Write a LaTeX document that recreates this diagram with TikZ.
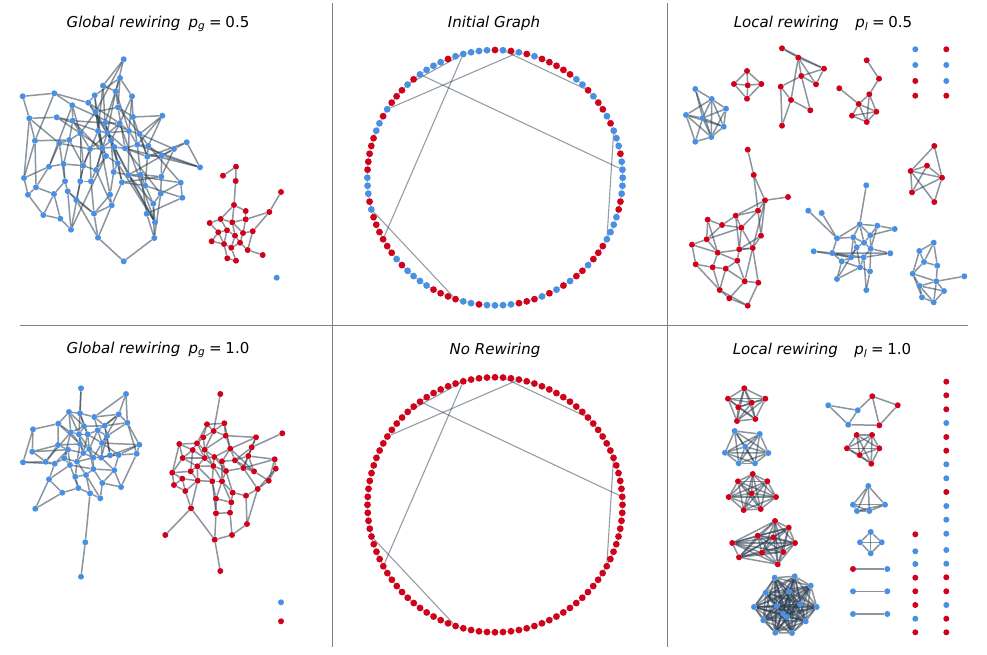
\documentclass[tikz,border=0pt]{standalone}
\usepackage{fontspec}
\setmainfont{DejaVu Sans}
\pgfdeclarelayer{bg}
\pgfdeclarelayer{edges}
\pgfsetlayers{bg,edges,main}
\definecolor{cb}{RGB}{74,144,226}
\definecolor{cr}{RGB}{208,2,27}
\definecolor{ce}{RGB}{44,62,80}
\definecolor{cdiv}{RGB}{128,128,128}
\newcommand\mycliq[2]{\foreach \i in {1,...,#2}{\foreach \j in {\i,...,#2}{\ifnum\j>\i\relax\draw[edge] (#1\i) -- (#1\j);\fi}}}
\begin{document}
\begin{tikzpicture}[x=1pt,y=-1pt,
  vtx/.style={circle,inner sep=0pt,minimum size=6pt,draw=none,fill=c#1},
  rv/.style={circle,inner sep=0pt,minimum size=6.8pt,draw=none,fill=c#1},
  edge/.style={draw=ce,draw opacity=0.55,line width=1.5pt},
  ringedge/.style={draw=ce,draw opacity=0.6,line width=0.9pt},
  chord/.style={draw=ce,draw opacity=0.5,line width=1.1pt},
  ttl/.style={font=\fontsize{15}{18}\selectfont\itshape,inner sep=0pt},
  divider/.style={draw=cdiv,line width=1.2pt}]
\begin{pgfonlayer}{bg}
\fill[white] (0,0) rectangle (987,655);
\end{pgfonlayer}
\useasboundingbox (0,0) rectangle (987,655);
% dividers
\draw[divider] (332.5,3) -- (332.5,647);
\draw[divider] (667.5,3) -- (667.5,647);
\draw[divider] (20,325.5) -- (968,325.5);
% titles
\node[ttl] (t1) at (158,23.5) {Global rewiring\hspace{0.55em}p\textsubscript{g}\hspace{0.25em}{\upshape =\hspace{0.25em}0.5}};
\node[ttl] (t2) at (494,23.5) {Initial Graph};
\node[ttl] (t3) at (823,23.5) {Local rewiring\hspace{1.1em}p\textsubscript{l}\hspace{0.25em}{\upshape =\hspace{0.25em}0.5}};
\node[ttl] (t4) at (158,350) {Global rewiring\hspace{0.55em}p\textsubscript{g}\hspace{0.25em}{\upshape =\hspace{0.25em}1.0}};
\node[ttl] (t5) at (495,350) {No Rewiring};
\node[ttl] (t6) at (822,350) {Local rewiring\hspace{1.1em}p\textsubscript{l}\hspace{0.25em}{\upshape =\hspace{0.25em}1.0}};
% ===== Initial graph ring
\foreach \c [count=\k from 0] in {b,b,b,r,b,b,b,r,b,r, r,b,r,b,b,r,r,r,r,r, b,r,b,r,b,r,b,b,b,b, b,r,b,b,b,b,r,b,r,r, r,b,r,b,b,r,r,r,r,r, b,b,b,r,b,r,r,r,r,r, r,b,r,b,b,b,b,r,r,r, r,b,b,r,b,b,b,b,r,r, r,b,r,b,r,b,r,r,b,r, r,r,b,b,b,b,r,r,b,b}
  \node[rv=\c] (i\k) at ({495+127.7*cos(3.6*\k)},{177.7-127.7*sin(3.6*\k)}) {};
\foreach \k in {0,...,99}
  \node[rv=r] (w\k) at ({495+127.5*cos(3.6*\k)},{504.8-127.5*sin(3.6*\k)}) {};
\begin{pgfonlayer}{edges}
\foreach \k [evaluate=\k as \nx using {int(mod(\k+1,100))}] in {0,...,99}
  {\draw[ringedge] (i\k) -- (i\nx); \draw[ringedge] (w\k) -- (w\nx);}
\foreach \a/\b in {29/58,29/37,22/41,35/1,24/12,6/92,54/70}
  {\draw[chord] (i\a) -- (i\b); \draw[chord] (w\a) -- (w\b);}
\end{pgfonlayer}
% ===== Global rewiring 0.5
\foreach \n/\x/\y/\c in {g1/123.7/59.3/b,g2/120/78/b,g3/103/85.7/b,g4/115.7/91.3/b,g5/132/96.3/b,g6/22.7/96.3/b,g7/54.3/93.3/b,g8/94.7/95.3/b,g9/72.3/105.3/b,g10/88.3/102.7/b,
g11/95.7/111.7/b,g12/118/107.3/b,g13/133/117/b,g14/29.3/118.3/b,g15/56.7/117.3/b,g16/72.7/120.7/b,g17/105/123/b,g18/119.7/123.3/b,g19/162.3/115.7/b,g20/98/131/b,
g21/107.3/132.7/b,g22/129/131/b,g23/139.7/134/b,g24/80.3/133.3/b,g25/35/140.7/b,g26/69.3/140/b,g27/59.3/143.3/b,g28/111/140.3/b,g29/137.3/144.7/b,g30/148.3/145.7/b,
g31/186.7/142.3/b,g32/90/149/b,g33/102.3/148.3/b,g34/114.3/147/b,g35/125/148.3/b,g36/174/149/b,g37/106/156/b,g38/147.3/156.7/b,g39/161.7/155.3/b,g40/49/166.7/b,
g41/63.7/164/b,g42/83.3/165.7/b,g43/117.7/163.3/b,g44/200/167.3/b,g45/96/170/b,g46/113.7/172/b,g47/128.3/175/b,g48/140.7/174.7/b,g49/161.3/176.7/b,g50/24/178/b,
g51/65/181.3/b,g52/80.3/181.3/b,g53/91/181.3/b,g54/122/182.3/b,g55/145.3/185.7/b,g56/180.7/182.7/b,g57/36/187.3/b,g58/67.7/191.3/b,g59/28/194.7/b,g60/54/194/b,
g61/110/194.7/b,g62/160.7/193.7/b,g63/182.3/197.7/b,g64/76.3/200/b,g65/153.3/203.7/b,g66/111.7/205.3/b,g67/43.3/215/b,g68/60.3/218.7/b,g69/94/213.7/b,g70/146.7/213.7/b,
g71/155/222.3/b,g72/71/229.7/b,g73/98/237.7/b,g74/154.3/238/b,g75/123.7/261.3/b,g76/276.7/277.7/b,
r1/236/166.7/r,r2/223/175.7/r,r3/235.7/181/r,r4/281/192/r,r5/234/205/r,r6/245.7/211/r,r7/269.3/212/r,r8/209.7/223/r,r9/220.7/219/r,r10/232.3/222.3/r,
r11/245.7/219.3/r,r12/218.3/232.3/r,r13/227/230.3/r,r14/243/233/r,r15/252.7/231.3/r,r16/235/235.7/r,r17/211.7/241.3/r,r18/224/244/r,r19/231.3/247.7/r,r20/240/242.7/r,
r21/247.7/250/r,r22/227.3/258.3/r,r23/236/260.7/r,r24/262.7/255/r}
  \node[vtx=\c] (\n) at (\x,\y) {};
\begin{pgfonlayer}{edges}
\foreach \a/\b in {g1/g3,g1/g11,g2/g5,g2/g12,g2/g8,g3/g4,g3/g17,g4/g12,g4/g21,g5/g13,g5/g18,g6/g7,g6/g14,g7/g9,g7/g10,g7/g25,g8/g10,g8/g20,g8/g33,g9/g16,g9/g22,g10/g11,g10/g28,g11/g12,g11/g24,g11/g21,g12/g13,g12/g23,g13/g19,g13/g29,g14/g25,g14/g27,g14/g15,g15/g20,g15/g16,g15/g24,g16/g26,g16/g17,g16/g37,g17/g18,g17/g28,g17/g34,g18/g22,g18/g32,g19/g29,g19/g30,g20/g21,g20/g42,g21/g22,g21/g35,g21/g45,g22/g23,g22/g47,g23/g30,g23/g36,g24/g26,g24/g33,g24/g52,g25/g26,g25/g50,g25/g57,g26/g27,g26/g41,g27/g40,g27/g32,g28/g33,g28/g43,g28/g46,g29/g30,g29/g48,g29/g35,g30/g38,g30/g56,g31/g36,g31/g44,g31/g38,g32/g33,g32/g42,g32/g53,g33/g34,g33/g37,g34/g35,g34/g47,g34/g54,g35/g38,g35/g62,g36/g39,g36/g49,g37/g43,g37/g45,g38/g39,g38/g55,g39/g44,g39/g49,g40/g41,g40/g50,g40/g57,g41/g42,g41/g51,g42/g45,g42/g52,g43/g46,g43/g54,g43/g71,g44/g29,g45/g53,g46/g47,g46/g61,g47/g48,g47/g65,g48/g55,g48/g49,g49/g62,g50/g59,g51/g58,g51/g60,g52/g53,g52/g64,g53/g69,g54/g55,g54/g66,g55/g65,g56/g63,g56/g62,g57/g59,g57/g60,g58/g64,g58/g72,g59/g67,g60/g67,g60/g68,g61/g66,g61/g69,g62/g65,g62/g74,g63/g70,g64/g69,g64/g73,g65/g71,g66/g69,g66/g73,g67/g68,g68/g72,g69/g73,g70/g74,g70/g48,g71/g34,g72/g42,g73/g75,g74/g75,g45/g66,g9/g40,g20/g61,g1/g4,g37/g72,g18/g71,g50/g14,
g2/g17,g5/g22,g3/g20,g12/g35,g19/g23,g13/g38,g36/g47,g44/g35,g56/g47,g63/g55,g49/g54,g17/g43,g20/g37,g16/g32,g9/g24,g27/g51,g24/g42,g22/g29,g18/g28,g21/g34,g23/g38,g30/g39,g33/g45,g71/g47,g74/g65,g69/g58,g10/g18,g11/g33,g4/g22,g26/g42,
r1/r2,r1/r3,r3/r5,r4/r7,r7/r15,r7/r11,r5/r6,r5/r9,r5/r10,r8/r9,r9/r10,r8/r12,r9/r13,r10/r11,r6/r11,r11/r14,r12/r13,r12/r17,r13/r16,r14/r15,r14/r20,r16/r19,r17/r18,r18/r19,r18/r22,r19/r20,r19/r23,r20/r21,r21/r24,r22/r23,r13/r18,r10/r16,r15/r21,r16/r20,r12/r18,r10/r14}
  \draw[edge] (\a) -- (\b);
\end{pgfonlayer}
% ===== Global rewiring 1.0
\foreach \n/\x/\y/\c in {b1/81/388.3/b,b2/126/394/b,b3/69/412/b,b4/80/413.3/b,b5/94.3/417/b,b6/118.7/414.3/b,b7/58.3/423.7/b,b8/84/426.3/b,b9/127.3/422.7/b,b10/33/429.3/b,
b11/70.7/432.3/b,b12/79/434.3/b,b13/87.7/434.3/b,b14/97.7/430.3/b,b15/104.7/425.7/b,b16/107/436/b,b17/58/445/b,b18/80/444/b,b19/102/443/b,b20/139.3/444.7/b,
b21/32.3/451.7/b,b22/68/449.7/b,b23/83.3/453/b,b24/89.3/449/b,b25/110/455.3/b,b26/118.7/455/b,b27/136.7/453.7/b,b28/23/462.3/b,b29/45.7/461.7/b,b30/54.7/463.7/b,
b31/64.3/458.3/b,b32/77/461.7/b,b33/93.3/457.7/b,b34/101.3/457.7/b,b35/70/465/b,b36/93.3/469/b,b37/114.3/470.3/b,b38/86/475/b,b39/75.3/476.7/b,b40/49/479.3/b,
b41/102.3/483/b,b42/121/487/b,b43/78.3/488/b,b44/62.3/492.7/b,b45/90/493.3/b,b46/100.3/498.3/b,b47/35.3/508.7/b,b48/85.3/542.3/b,b49/81/576.7/b,
z1/281/602.3/b,z2/281/621.3/r,
q1/220.3/394/r,q2/207/424.3/r,q3/224.3/423.3/r,q4/213.7/431/r,q5/203.3/437.3/r,q6/225.7/435.7/r,q7/256/437.3/r,q8/282.3/433.3/r,q9/179.3/444/r,q10/197/443.3/r,
q11/192.7/450/r,q12/204.7/449.7/r,q13/230.3/448.7/r,q14/251.7/447.3/r,q15/182.7/458/r,q16/204.7/458/r,q17/214.3/457/r,q18/222/461.3/r,q19/235/460.3/r,q20/248.3/456/r,
q21/274.7/459.3/r,q22/172.3/472.7/r,q23/190.7/471.3/r,q24/197.3/466.3/r,q25/213.3/466/r,q26/226/471/r,q27/243.3/468/r,q28/254/471.3/r,q29/275.7/468.7/r,q30/182.3/478.7/r,
q31/197.7/480.7/r,q32/212.3/481.3/r,q33/222/481.3/r,q34/268.7/480.7/r,q35/174/485/r,q36/185.3/491/r,q37/232.7/492.7/r,q38/257.7/489/r,q39/246/495.7/r,q40/216/498.7/r,
q41/231.3/502.3/r,q42/191/508.3/r,q43/216/513.3/r,q44/230/512.7/r,q45/247/524/r,q46/165.3/535/r,q47/214.7/539.7/r,q48/232/535/r,q49/220.3/571/r}
  \node[vtx=\c] (\n) at (\x,\y) {};
\begin{pgfonlayer}{edges}
\foreach \a/\b in {b1/b4,b1/b12,b2/b5,b2/b6,b2/b9,b3/b4,b3/b7,b3/b11,b3/b8,b4/b5,b4/b8,b5/b6,b5/b14,b6/b9,b6/b15,b6/b19,b7/b10,b7/b11,b7/b17,b7/b18,b8/b12,b8/b13,b8/b15,b9/b20,b9/b16,b9/b27,b10/b28,b11/b12,b11/b18,b11/b29,b12/b13,b12/b18,b12/b24,b13/b14,b13/b24,b13/b23,b14/b16,b14/b19,b15/b16,b15/b25,b16/b19,b16/b25,b16/b34,b17/b18,b17/b22,b17/b29,b18/b23,b18/b24,b19/b26,b19/b20,b19/b33,b20/b27,b20/b26,b21/b22,b21/b29,b21/b17,b22/b31,b22/b23,b22/b30,b23/b24,b23/b32,b24/b33,b24/b34,b25/b26,b25/b34,b26/b27,b26/b37,b27/b42,b28/b29,b28/b30,b29/b30,b30/b31,b30/b40,b31/b32,b31/b35,b32/b33,b32/b39,b33/b34,b33/b36,b34/b37,b35/b36,b35/b40,b35/b43,b36/b38,b36/b41,b37/b41,b37/b42,b38/b39,b38/b45,b38/b46,b39/b43,b40/b44,b40/b47,b41/b46,b41/b42,b43/b44,b43/b45,b44/b47,b45/b46,b45/b48,b48/b49,
b4/b13,b5/b15,b8/b11,b12/b23,b13/b19,b14/b24,b18/b32,b22/b35,b24/b36,b23/b33,b19/b34,b26/b33,b32/b38,b36/b37,b11/b31,b10/b21,b3/b12,b6/b14,b9/b15,b20/b25,
q1/q4,q2/q3,q2/q4,q2/q10,q3/q6,q3/q4,q4/q6,q4/q5,q4/q12,q5/q10,q5/q12,q6/q7,q6/q13,q6/q12,q7/q14,q7/q13,q8/q14,q9/q10,q9/q15,q9/q11,q10/q11,q10/q12,q11/q15,q11/q16,q12/q17,q12/q16,q13/q17,q13/q18,q13/q19,q14/q20,q14/q27,q15/q22,q15/q24,q15/q16,q16/q17,q16/q24,q16/q25,q17/q18,q17/q25,q18/q19,q18/q26,q19/q20,q19/q27,q20/q21,q20/q28,q21/q29,q21/q27,q22/q23,q22/q30,q23/q24,q23/q31,q24/q31,q24/q25,q25/q32,q25/q26,q26/q33,q26/q27,q27/q28,q28/q34,q29/q34,q29/q38,q30/q31,q30/q36,q30/q35,q31/q32,q31/q42,q32/q33,q32/q40,q33/q37,q33/q41,q34/q38,q35/q36,q36/q42,q37/q39,q37/q41,q38/q39,q38/q45,q39/q45,q40/q43,q40/q41,q41/q44,q42/q46,q42/q47,q43/q47,q43/q44,q44/q48,q45/q48,q47/q48,q47/q49,q32/q43,q18/q33,q13/q28,q9/q22,q35/q22,
q2/q5,q3/q13,q10/q16,q11/q23,q12/q25,q17/q26,q19/q28,q20/q27,q24/q32,q25/q33,q26/q37,q27/q38,q31/q36,q33/q40,q14/q19,q7/q20,q21/q34}
  \draw[edge] (\a) -- (\b);
\end{pgfonlayer}
% ===== Local rewiring 0.5
\foreach \n/\x/\y/\c in {a1/695.3/89/b,a2/711.7/99/b,a3/726/108.7/b,a4/686/115/b,a5/702.7/118/b,a6/723.7/126.7/b,a7/711.3/137/b,a8/695.3/141.7/b,
c1/747/71/r,c2/734/84/r,c3/747.7/85.3/r,c4/761.3/84/r,c5/747/98.7/r,
d1/782/48.3/r,d2/798.3/57.7/r,d3/824/68.7/r,d4/801.3/76/r,d5/816/84.3/r,d6/780.7/86.7/r,d7/791/100/r,d8/810.3/110.3/r,d9/782/125.7/r,
e1/866.7/60.3/r,e2/879/78.7/r,e3/839.3/88.3/r,e4/869.3/94.3/r,e5/858.7/104/r,e6/852/115.7/r,e7/876.3/111.7/r,e8/866.7/122/r,
u1/915.3/49.3/b,u2/946.3/49.3/r,u3/915.3/65/b,u4/946.3/65/b,u5/915.3/81/r,u6/946.3/81/b,u7/915.3/95.7/r,u8/946.3/95.7/r,
f1/934.3/146/r,f2/927/165.7/r,f3/910.7/171/r,f4/942/177.7/r,f5/912/192.3/r,f6/934.3/202/r,
h1/747.7/149.7/r,h2/753.7/175/r,h3/765/200.3/r,h4/788/197/r,h5/758/210.7/r,h6/735.7/215.7/r,h7/707.7/219.7/r,h8/722/225/r,h9/741.3/227.7/r,h10/761/235.7/r,
h11/706.7/239.3/r,h12/692/244.7/r,h13/752.7/248/r,h14/739.3/249.3/r,h15/717.7/252.7/r,h16/737.3/260.7/r,h17/695.7/264.3/r,h18/712.7/267.3/r,h19/725.7/268.7/r,h20/744.7/281.3/r,
h21/758.3/282.7/r,h22/719.7/290/r,h23/729.3/298.3/r,h24/747.7/305.7/r,
m1/866.3/185.3/b,m2/808.3/210.7/b,m3/821.7/213/b,m4/894.7/229/b,m5/859.7/224.3/b,m6/877.3/225.7/b,m7/870.3/235.3/b,m8/837/238.3/b,m9/853.3/237.3/b,m10/864/242.7/b,
m11/856.7/247.3/b,m12/870.7/248.7/b,m13/813.7/251.3/b,m14/832.3/253/b,m15/890.3/253.3/b,m16/841.7/261.3/b,m17/851/257.3/b,m18/863.7/257.3/b,m19/860/267.3/b,m20/870/271.3/b,
m21/837/279/b,m22/866.3/290/b,
k1/933.7/242.7/b,k2/919.3/251/b,k3/924/262/b,k4/937.3/265.7/b,k5/912.7/273.7/b,k6/936.3/281.3/b,k7/964.3/276.3/b,k8/919.7/286/b,k9/944/291/b,k10/922/297.3/b,k11/933.7/302.3/b}
  \node[vtx=\c] (\n) at (\x,\y) {};
\begin{pgfonlayer}{edges}
\foreach \a/\b in {a1/a2,a1/a5,a1/a7,a2/a3,a2/a5,a2/a6,a2/a7,a3/a5,a3/a6,a4/a5,a4/a7,a4/a8,a5/a6,a5/a7,a5/a8,a6/a7,a7/a8,a3/a7,a4/a6,a2/a4,
c1/c2,c1/c3,c1/c4,c2/c3,c3/c4,c2/c5,c3/c5,c4/c5,
d1/d2,d1/d3,d2/d3,d2/d5,d2/d7,d3/d4,d3/d5,d4/d6,d4/d8,d4/d5,d6/d7,d6/d9,d7/d9,d7/d8,d2/d4,
e1/e2,e2/e4,e3/e5,e4/e5,e4/e7,e5/e6,e5/e7,e5/e8,e6/e8,e7/e8,e4/e8,e6/e7,
f1/f3,f1/f4,f2/f3,f2/f4,f3/f4,f3/f5,f3/f6,f2/f5,f4/f6,f4/f5,
h1/h2,h2/h3,h2/h5,h3/h4,h3/h5,h3/h6,h3/h10,h5/h6,h5/h9,h5/h10,h6/h8,h6/h9,h6/h14,h7/h8,h7/h11,h7/h15,h8/h9,h8/h11,h9/h11,h9/h13,h9/h14,h10/h13,h10/h14,h11/h12,h11/h15,h12/h17,h12/h15,h13/h14,h13/h20,h13/h21,h14/h16,h15/h16,h15/h18,h15/h13,h16/h19,h16/h20,h17/h18,h17/h22,h18/h19,h18/h22,h19/h20,h20/h21,h20/h23,h22/h23,h22/h24,h23/h24,h19/h22,h3/h13,h21/h24,
m1/m5,m2/m8,m3/m8,m4/m7,m4/m6,m5/m6,m5/m7,m5/m8,m5/m9,m5/m10,m6/m7,m6/m12,m7/m10,m8/m9,m8/m14,m9/m11,m10/m11,m10/m12,m11/m17,m12/m18,m13/m14,m13/m17,m14/m16,m14/m17,m15/m12,m15/m18,m16/m19,m17/m18,m18/m19,m19/m20,m19/m21,m20/m22,m21/m16,m9/m17,m14/m18,m12/m20,m11/m21,m16/m17,m7/m12,m9/m10,m11/m19,m18/m22,m14/m15,
k1/k2,k1/k4,k2/k3,k2/k5,k3/k4,k3/k5,k4/k6,k5/k6,k5/k8,k6/k7,k6/k8,k6/k9,k8/k10,k8/k9,k9/k11,k10/k11,k6/k11,k8/k11,k1/k3,k5/k10}
  \draw[edge] (\a) -- (\b);
\end{pgfonlayer}
% ===== Local rewiring 1.0
\foreach \n/\x/\y/\c in {pa1/744.3/388.3/r,pa2/728/398.7/r,pa3/765.3/398.7/r,pa4/738.3/407.3/r,pa5/751.7/402.7/r,pa6/737/421/r,pa7/755.3/419/r,
pb1/734.7/431/b,pb2/759.7/434/b,pb3/745.3/446.7/b,pb4/725/452.7/b,pb5/768.3/453/b,pb6/738.7/463.3/b,pb7/755/463.3/b,
pc1/752.7/474/r,pc2/738/481.3/r,pc3/767.3/481.3/r,pc4/751.7/493.3/r,pc5/728.7/497/r,pc6/776/497/r,pc7/743.7/510/r,pc8/760.7/509/r,
pd1/775/521/r,pd2/788.7/527.7/r,pd3/757.7/535.7/r,pd4/773.3/537.3/r,pd5/732.3/543/r,pd6/795/543/r,pd7/762/552.7/r,pd8/783.3/552/r,pd9/739/557.3/r,pd10/777.7/564.3/r,
pe1/774.7/577.7/b,pe2/794.7/576.3/b,pe3/810.7/585.7/b,pe4/765.7/592.7/b,pe5/789/591.7/b,pe6/754/607/b,pe7/776.7/606/b,pe8/800.3/604.3/b,pe9/816.7/607/b,pe10/783/613.7/b,
pe11/763.3/620.3/b,pe12/787.3/617/b,pe13/805.7/621.3/b,pe14/775.3/632.7/b,pe15/792/633/b,
qa1/828.3/405.3/b,qa2/857.7/410.3/b,qa3/848.3/424.7/b,qa4/872.3/396.3/r,qa5/897.7/405.3/r,qa6/879.3/425.3/r,
qb1/856.7/435/r,qb2/872/435/r,qb3/847/448.3/r,qb4/879.3/448.3/r,qb5/859.7/455/r,qb6/871.3/463.7/r,
qc1/868.3/486/b,qc2/853/504.7/b,qc3/885/504.7/b,qc4/857/511/b,qc5/869.3/511/b,
qd1/870.7/532/b,qd2/860/542.3/b,qd3/881.7/542.3/b,qd4/870.7/553.3/b,
qe1/853/569/r,qe2/887.3/569/b,qf1/853/591.3/b,qf2/887.3/591.3/b,qg1/853/614/b,qg2/887.3/614/b,
s1/915.3/534.3/r,s2/915.3/551.3/b,s3/915.3/564/b,s4/915.3/577.7/r,s5/915.3/591.3/r,s6/915.3/605/r,s7/915.3/618.7/b,s8/915.3/632.3/r,
v1/946.3/381.7/r,v2/946.3/395.3/r,v3/946.3/409.3/r,v4/946.3/423/b,v5/946.3/437/r,v6/946.3/450.7/r,v7/946.3/464.3/b,v8/946.3/478.3/b,v9/946.3/492/r,v10/946.3/506/b,
v11/946.3/519.7/b,v12/946.3/533.7/b,v13/946.3/550/b,v14/946.3/563.7/b,v15/946.3/577.3/r,v16/946.3/591.3/r,v17/946.3/605/b,v18/946.3/618.7/r,v19/946.3/632.3/r}
  \node[vtx=\c] (\n) at (\x,\y) {};
\begin{pgfonlayer}{edges}
\mycliq{pa}{7}
\mycliq{pb}{7}
\mycliq{pc}{8}
\mycliq{pd}{10}
\mycliq{pe}{15}
\mycliq{qb}{6}
\mycliq{qc}{5}
\mycliq{qd}{4}
\foreach \a/\b in {qa1/qa2,qa1/qa3,qa2/qa3,qa2/qa4,qa3/qa6,qa4/qa6,qa4/qa5,qa5/qa6,qe1/qe2,qf1/qf2,qg1/qg2}
  \draw[edge] (\a) -- (\b);
\end{pgfonlayer}
\end{tikzpicture}
\end{document}
